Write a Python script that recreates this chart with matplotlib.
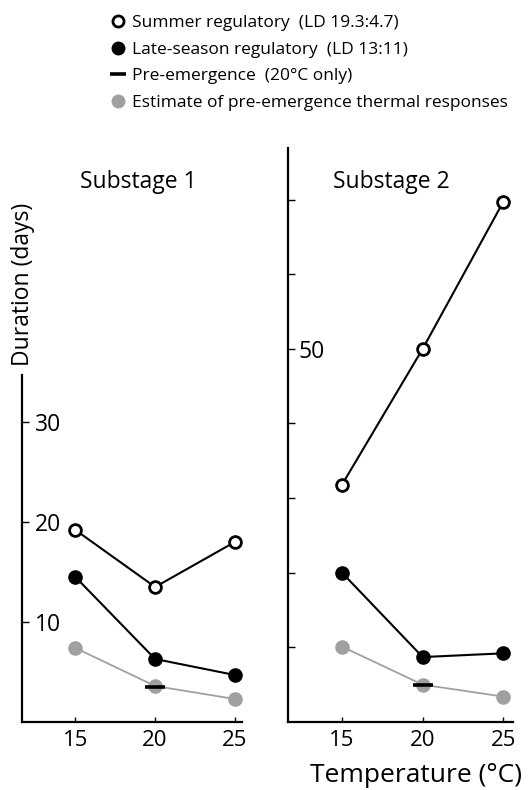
import matplotlib
matplotlib.use("Agg")
import matplotlib.pyplot as plt
from matplotlib.lines import Line2D

plt.rcParams['font.family'] = ['Open Sans', 'DejaVu Sans']

temps = [15, 20, 25]
s1_summer = [19.2, 13.5, 18.0]
s1_late = [14.5, 6.3, 4.7]
s1_est = [7.4, 3.6, 2.3]
s1_pre_t = [20]
s1_pre = [3.5]

s2_summer = [31.8, 50.0, 69.7]
s2_late = [20.0, 8.7, 9.2]
s2_est = [10.1, 5.0, 3.4]
s2_pre_t = [20]
s2_pre = [5.0]

left_yticks = [10, 20, 30]
right_yticks = [10, 20, 30, 40, 50, 60, 70]
right_ylabels = ['', '', '', '', '50', '', '']
xticks = [15, 20, 25]

W, H = 528, 790
fig = plt.figure(figsize=(W / 100, H / 100), dpi=100)

def fx(px):
    return px / W

def fy(py):
    return 1 - py / H

GRAY = '#a0a0a0'
ax1 = fig.add_axes([fx(22), fy(722), fx(242 - 22), fy(375) - fy(722)])
ax2 = fig.add_axes([fx(288), fy(722), fx(513 - 288), fy(148) - fy(722)])

def draw(ax, summer, late, est, pre_t, pre):
    ax.plot(temps, est, '-', color=GRAY, lw=1.3, marker='o', ms=9.5, mfc=GRAY, mec=GRAY, zorder=2)
    ax.plot(pre_t, pre, linestyle='none', marker='_', ms=14, mew=2.6, color='black', zorder=3)
    ax.plot(temps, late, '-', color='black', lw=1.5, marker='o', ms=9.5, mfc='black', mec='black', zorder=4)
    ax.plot(temps, summer, '-', color='black', lw=1.5, marker='o', ms=8.5, mfc='white', mec='black', mew=2.0, zorder=5)
    for s in ['top', 'right']:
        ax.spines[s].set_visible(False)
    for s in ['left', 'bottom']:
        ax.spines[s].set_linewidth(1.6)
    ax.set_xticks(xticks)
    ax.tick_params(axis='x', direction='in', length=3.5, width=1.0, pad=6, labelsize=16)
    ax.tick_params(axis='y', direction='in', length=5, width=1.0, labelsize=16.5)

draw(ax1, s1_summer, s1_late, s1_est, s1_pre_t, s1_pre)
draw(ax2, s2_summer, s2_late, s2_est, s2_pre_t, s2_pre)

ax1.set_xlim(11.65, 25.45)
ax2.set_xlim(11.65, 25.6)
ax1.set_ylim(0, 34.7)
ax2.set_ylim(0, 76.9)
ax1.set_yticks(left_yticks)
ax2.set_yticks(right_yticks)
ax2.set_yticklabels(right_ylabels)
ax1.tick_params(axis='y', pad=-9.5)
ax2.tick_params(axis='y', pad=-7.5)
for ax in (ax1, ax2):
    for lab in ax.get_yticklabels():
        lab.set_horizontalalignment('left')

fig.text(fx(138), fy(182), 'Substage 1', ha='center', va='center', fontsize=16.5)
fig.text(fx(391), fy(182), 'Substage 2', ha='center', va='center', fontsize=16.5)
fig.text(fx(23), fy(284), 'Duration (days)', ha='center', va='center', rotation=90, fontsize=16.5)
fig.text(fx(416), fy(776), 'Temperature (\u00b0C)', ha='center', va='center', fontsize=19)

handles = [
    Line2D([], [], linestyle='none', marker='o', ms=8, mfc='white', mec='black', mew=2.0),
    Line2D([], [], linestyle='none', marker='o', ms=9, mfc='black', mec='black'),
    Line2D([], [], linestyle='none', marker='_', ms=11, mew=2.6, color='black'),
    Line2D([], [], linestyle='none', marker='o', ms=9, mfc=GRAY, mec=GRAY),
]
labels = [
    'Summer regulatory  (LD 19.3:4.7)',
    'Late-season regulatory  (LD 13:11)',
    'Pre-emergence  (20\u00b0C only)',
    'Estimate of pre-emergence thermal responses',
]
fig.legend(handles, labels, loc='upper left', bbox_to_anchor=(fx(109), fy(15)),
           frameon=False, fontsize=12.5, handlelength=1.0, handletextpad=0.35,
           labelspacing=0.6, borderpad=0, borderaxespad=0)

fig.savefig('out.png', dpi=100)
